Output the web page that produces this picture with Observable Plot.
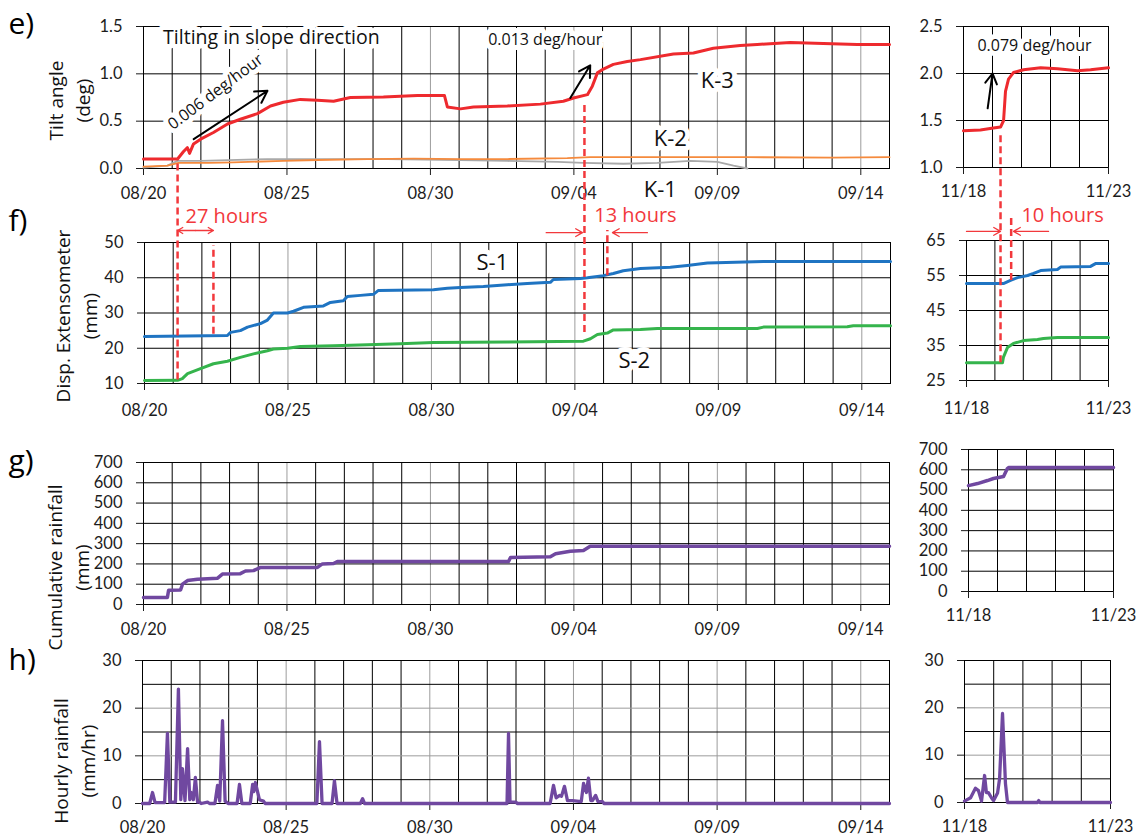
<!DOCTYPE html>
<html><head><meta charset="utf-8">
<script src="https://cdn.jsdelivr.net/npm/d3@7"></script>
<script src="https://cdn.jsdelivr.net/npm/@observablehq/plot@0.6"></script>
<style>
body{margin:0;background:#fff;}
#fig{position:relative;width:1143px;height:839px;overflow:hidden;background:#fff;}
</style></head><body><div id="fig"></div>
<script>
// ---------------- DATA ----------------
const YEAR = "2016";
const T = s => new Date(`${YEAR}-${s.replace(" ", "T")}:00Z`);
const rows = a => a.map(([t, v]) => ({t: T(t), v}));

// tick labels
const leftDateTicks = ["08-20", "08-25", "08-30", "09-04", "09-09", "09-14"];
const rightDateTicks = ["11-18", "11-23"];
const tiltTicksL = [0, 0.5, 1.0, 1.5];
const tiltTicksR = [1.0, 1.5, 2.0, 2.5];
const dispTicksL = [10, 20, 30, 40, 50];
const dispTicksR = [25, 35, 45, 55, 65];
const cumTicks = [0, 100, 200, 300, 400, 500, 600, 700];
const hourTicks = [0, 10, 20, 30];
const hourMinorGrid = [5, 15, 25];

// e) tilt angle (deg)
const k3L = [["08-20 00:00",0.10],["08-21 04:30",0.10],["08-21 09:30",0.18],["08-21 12:45",0.22],["08-21 14:30",0.16],["08-21 17:50",0.26],["08-21 23:45",0.31],["08-22 10:30",0.38],["08-22 22:15",0.47],["08-23 09:00",0.52],["08-23 23:20",0.58],["08-24 10:15",0.66],["08-24 21:00",0.70],["08-25 11:15",0.73],["08-26 01:30",0.72],["08-26 15:00",0.71],["08-27 05:00",0.75],["08-28 08:40",0.755],["08-29 13:10",0.77],["08-30 11:45",0.77],["08-30 14:10",0.65],["08-31 01:10",0.63],["08-31 12:00",0.65],["09-01 16:20",0.66],["09-02 20:00",0.68],["09-03 15:10",0.71],["09-03 23:40",0.745],["09-04 11:20",0.78],["09-04 15:25",0.87],["09-04 19:40",1.01],["09-05 00:40",1.05],["09-05 09:00",1.10],["09-05 20:40",1.13],["09-06 07:40",1.15],["09-07 11:15",1.21],["09-08 04:00",1.22],["09-08 20:40",1.27],["09-09 19:10",1.30],["09-10 09:20",1.31],["09-11 13:00",1.33],["09-12 16:40",1.32],["09-13 21:00",1.31],["09-15 00:00",1.31]];
const k2L = [["08-20 00:00",0.02],["08-20 20:00",0.03],["08-21 05:15",0.06],["08-22 06:00",0.06],["08-23 03:20",0.065],["08-24 21:00",0.08],["08-26 01:30",0.09],["08-27 19:15",0.10],["08-29 10:00",0.105],["08-31 01:10",0.10],["09-01 16:20",0.10],["09-03 18:30",0.11],["09-04 13:40",0.12],["09-07 00:00",0.12],["09-10 00:00",0.12],["09-13 00:00",0.115],["09-15 00:00",0.12]];
const k1L = [["08-20 00:00",0.01],["08-20 20:00",0.03],["08-21 04:30",0.08],["08-21 23:40",0.08],["08-24 07:40",0.10],["08-26 15:00",0.10],["08-28 12:00",0.10],["08-31 01:10",0.09],["09-01 16:20",0.08],["09-03 10:20",0.07],["09-04 08:00",0.06],["09-05 17:20",0.05],["09-06 21:50",0.06],["09-08 01:30",0.08],["09-09 00:00",0.07],["09-09 13:30",0.03],["09-10 01:10",0.0]];
const k3R = [["11-18 00:00",1.39],["11-18 14:00",1.40],["11-19 00:45",1.42],["11-19 06:40",1.43],["11-19 09:10",1.50],["11-19 10:45",1.81],["11-19 13:15",1.94],["11-19 17:20",2.01],["11-20 01:40",2.04],["11-20 15:50",2.06],["11-21 05:50",2.05],["11-21 22:20",2.03],["11-22 09:10",2.04],["11-23 00:00",2.06]];

// f) extensometer (mm)
const s1L = [["08-20 00:00",23.3],["08-22 21:20",23.6],["08-23 00:00",24.5],["08-23 08:10",25],["08-23 14:10",26],["08-24 01:00",27],["08-24 06:50",28],["08-24 11:50",30],["08-24 23:40",30],["08-25 04:40",30.5],["08-25 13:00",31.6],["08-26 05:40",32],["08-26 11:30",33],["08-26 22:20",33.5],["08-27 01:40",34.7],["08-27 12:40",35],["08-27 23:30",35.3],["08-28 03:40",36.4],["08-30 01:40",36.6],["08-30 13:20",37],["08-31 00:15",37.2],["08-31 19:30",37.5],["09-01 15:30",38],["09-02 08:10",38.4],["09-03 03:30",38.7],["09-03 06:00",39.5],["09-04 04:40",39.8],["09-04 10:30",40],["09-04 23:50",40.6],["09-05 08:10",41.2],["09-05 16:30",42],["09-06 06:50",42.6],["09-07 07:50",43],["09-07 22:00",43.5],["09-08 14:50",44.2],["09-10 13:40",44.6],["09-15 00:00",44.6]];
const s2L = [["08-20 00:00",10.85],["08-21 03:40",10.9],["08-21 07:40",11.4],["08-21 12:00",12.8],["08-21 22:50",14.2],["08-22 09:40",15.6],["08-22 21:20",16.3],["08-23 08:10",17.4],["08-23 19:10",18.4],["08-24 06:50",19.3],["08-24 11:50",19.8],["08-24 23:40",20],["08-25 10:30",20.5],["08-26 14:10",20.7],["08-27 18:30",21],["08-28 22:00",21.3],["08-30 01:40",21.6],["09-01 15:30",21.8],["09-04 07:10",22],["09-04 13:00",22.7],["09-04 18:50",23.9],["09-05 03:10",24.3],["09-05 08:10",25.2],["09-06 06:50",25.3],["09-06 21:00",25.6],["09-10 08:40",25.6],["09-10 13:40",26],["09-13 11:50",26.1],["09-13 16:50",26.4],["09-15 00:00",26.4]];
const s1R = [["11-18 00:00",52.7],["11-19 07:10",52.7],["11-19 13:10",53.6],["11-19 19:10",54.4],["11-20 03:40",55],["11-20 08:40",55.6],["11-20 14:40",56.4],["11-21 04:50",56.7],["11-21 07:30",57.4],["11-22 08:50",57.6],["11-22 13:00",58.4],["11-23 00:00",58.4]];
const s2R = [["11-18 00:00",30.1],["11-19 06:25",30.1],["11-19 07:10",31.6],["11-19 10:35",34.4],["11-19 15:40",35.6],["11-20 00:15",36.4],["11-20 12:00",36.7],["11-20 17:00",37],["11-21 04:50",37.3],["11-23 00:00",37.3]];

// g) cumulative rainfall (mm)
const cumL = [["08-20 00:00",35],["08-20 20:00",35],["08-20 21:00",70],["08-21 07:00",72],["08-21 08:40",100],["08-21 12:45",118],["08-21 21:10",125],["08-22 14:00",130],["08-22 18:00",150],["08-23 09:00",152],["08-23 13:20",165],["08-23 20:00",167],["08-24 02:00",183],["08-26 01:30",183],["08-26 05:40",200],["08-26 15:00",202],["08-26 18:10",212],["09-01 17:20",212],["09-01 19:00",232],["09-03 04:20",235],["09-03 08:40",250],["09-03 21:00",262],["09-04 08:00",266],["09-04 13:40",287],["09-15 00:00",287]];
const cumR = [["11-18 00:00",522],["11-18 07:30",532],["11-18 15:40",547],["11-18 20:40",557],["11-19 05:00",567],["11-19 08:10",606],["11-19 09:10",611],["11-23 00:00",611]];

// h) hourly rainfall (mm/hr)
const hourL = [["08-20 00:00",0],["08-20 06:00",0],["08-20 08:20",2.3],["08-20 10:30",0.2],["08-20 18:30",0.2],["08-20 20:50",14.7],["08-20 22:50",0.3],["08-21 03:30",0.3],["08-21 06:00",24],["08-21 08:00",0.8],["08-21 09:20",7.3],["08-21 11:30",0.6],["08-21 13:40",11.5],["08-21 15:30",0.8],["08-21 16:50",2.3],["08-21 18:30",0.8],["08-21 20:10",5.5],["08-21 22:00",0.3],["08-21 23:30",0.3],["08-22 01:00",0],["08-22 06:20",0.3],["08-22 08:00",0],["08-22 12:30",0],["08-22 14:40",3.8],["08-22 16:30",0.5],["08-22 18:50",17.4],["08-22 21:00",0.5],["08-22 23:30",0],["08-23 07:00",0],["08-23 09:00",4.0],["08-23 11:00",0],["08-23 18:00",0],["08-23 20:00",4.0],["08-23 21:00",2.5],["08-23 22:20",4.4],["08-24 01:40",0.8],["08-24 05:00",0.5],["08-24 06:30",0],["08-26 01:40",0],["08-26 03:50",13.0],["08-26 06:00",0],["08-26 14:20",0],["08-26 16:20",4.8],["08-26 18:30",0],["08-27 14:00",0],["08-27 15:50",1.0],["08-27 17:30",0],["09-01 16:30",0],["09-01 17:45",14.7],["09-01 19:00",0.3],["09-02 00:00",0.3],["09-02 01:00",0],["09-03 04:30",0],["09-03 07:20",3.8],["09-03 09:30",1.2],["09-03 12:30",1.7],["09-03 14:00",1.5],["09-03 16:30",3.6],["09-03 19:00",0.6],["09-03 23:20",0.6],["09-04 06:30",0.4],["09-04 08:25",4.2],["09-04 10:50",2.3],["09-04 12:30",5.3],["09-04 14:30",0.6],["09-04 15:50",0.6],["09-04 18:30",1.7],["09-04 20:30",0.4],["09-05 00:15",0.4],["09-05 01:30",0],["09-15 00:00",0]];
const hourR = [["11-18 00:00",0.3],["11-18 05:00",1.0],["11-18 09:00",3.0],["11-18 11:30",2.5],["11-18 14:00",0.3],["11-18 16:30",5.7],["11-18 18:00",2.1],["11-18 19:40",2.1],["11-18 22:10",1.0],["11-18 23:50",0.4],["11-19 03:10",2.0],["11-19 04:50",5.0],["11-19 07:15",18.8],["11-19 09:40",4.0],["11-19 11:20",0],["11-20 12:00",0],["11-20 13:00",0.4],["11-20 14:00",0],["11-23 00:00",0]];

// annotations (times, values, texts)
const tiltNoteL = [{t:"08-24 11:00", v:1.385, s:"Tilting in slope direction"}];
const rateNoteRot = [{t:"08-22 12:15", v:0.81, s:"0.006 deg/hour"}];
const rateNoteL = [{t:"09-03 00:00", v:1.36, s:"0.013 deg/hour"}];
const rateNoteR = [{t:"11-20 10:45", v:2.29, s:"0.079 deg/hour"}];
const tiltArrowsL = [{t1:"08-21 18:00", v1:0.31, t2:"08-24 07:40", v2:0.82},{t1:"09-03 21:00", v1:0.745, t2:"09-04 13:40", v2:1.09}];
const tiltArrowsR = [{t1:"11-18 20:00", v1:1.63, t2:"11-19 00:00", v2:2.00}];
const kLabels = [{t:"09-09 00:00", v:0.92, s:"K-3"},{t:"09-07 08:40", v:0.31, s:"K-2"},{t:"09-07 00:15", v:-0.23, s:"K-1"}];
const sLabels = [{t:"09-01 03:00", v:44.3, s:"S-1"},{t:"09-06 01:40", v:16.5, s:"S-2"}];
// onset: from K-3 (tilt value) down to extensometer value
const onsetL = [{t:"08-21 03:40", tilt:0.10, disp:11.0},{t:"09-04 08:00", tilt:0.68, disp:24.5}];
const onsetR = [{t:"11-19 04:45", tilt:1.37, disp:30.1}];
const lagL = [{t:"08-22 09:40", top:49.1, bottom:24.0},{t:"09-05 03:10", top:53.4, bottom:40.6}];
const lagR = [{t:"11-19 13:45", top:72.1, bottom:53.6}];
const lagArrowsL = [{t1:"08-21 18:40", t2:"08-21 03:40", v:53.4},{t1:"08-21 18:40", t2:"08-22 09:40", v:53.4},{t1:"09-03 00:00", t2:"09-04 06:20", v:52.8},{t1:"09-06 12:40", t2:"09-05 07:25", v:52.8}];
const lagArrowsR = [{t1:"11-18 00:00", t2:"11-19 04:45", v:67.6},{t1:"11-20 21:20", t2:"11-19 15:45", v:67.6}];
const lagTextL = [{t:"08-21 10:20", v:57.4, s:"27 hours"}];
const lagTextM = [{t:"09-06 02:40", v:57.7, s:"13 hours"}];
const lagTextR = [{t:"11-21 09:10", v:72.1, s:"10 hours"}];

// ---------------- LAYOUT ----------------
const W = 1143, H = 839;
const FONT = "'Open Sans', 'Noto Sans', sans-serif";
const TICKFONT = "Lato, 'Open Sans', sans-serif";
const F = {
  eL:{l:143,r:889,t:26,b:168}, eR:{l:963,r:1108,t:26,b:167},
  fL:{l:144,r:890,t:242,b:383}, fR:{l:966,r:1108,t:240,b:380},
  gL:{l:143,r:889,t:462,b:604}, gR:{l:968,r:1113,t:449,b:591},
  hL:{l:142,r:889,t:660,b:803}, hR:{l:964,r:1110,t:660,b:802}
};
const RED = "#ee2a2e", DRED = "#f2383c", ORANGE = "#f58a3d", GRAY = "#a9a9a9";
const BLUE = "#1f74c2", GREEN = "#35b44c", PURPLE = "#7048a0";
const xLeft = [T("08-20 00:00"), T("09-15 00:00")];
const xRight = [T("11-18 00:00"), T("11-23 00:00")];
const obj = a => a.map(d => ({...d, t: d.t ? T(d.t) : undefined, t1: d.t1 ? T(d.t1) : undefined, t2: d.t2 ? T(d.t2) : undefined}));

function panel(f, o) {
  const xTicks = o.xTicks.map(s => T(s + " 00:00"));
  const majors = new Set(xTicks.map(Number));
  const days = d3.utcDay.range(o.x[0], o.x[1]).slice(1);
  return Plot.plot({
    width: W, height: H,
    marginLeft: f.l, marginRight: W - f.r, marginTop: f.t, marginBottom: H - f.b,
    x: {type: "utc", domain: o.x},
    y: {type: "linear", domain: o.y},
    style: {position: "absolute", left: "0px", top: "0px", overflow: "visible", background: "transparent", fontFamily: TICKFONT, fontSize: "16.5px", color: "#1c1c1c"},
    marks: [
      Plot.ruleX(days.filter(d => !majors.has(+d)), {stroke: "#000", strokeWidth: 1}),
      Plot.ruleX(days.filter(d => majors.has(+d)), {stroke: "#9c9c9c", strokeWidth: 1}),
      Plot.ruleY(o.gridBlack || [], {stroke: "#000", strokeWidth: 1}),
      Plot.ruleY(o.gridGray || [], {stroke: "#9c9c9c", strokeWidth: 1}),
      Plot.frame({stroke: "#000", strokeWidth: 1}),
      Plot.axisX({ticks: xTicks, tickFormat: d3.utcFormat("%m/%d"), tickSize: 7, tickPadding: o.xPad, label: null}),
      Plot.axisY({ticks: o.yTicks, tickFormat: o.yFmt, tickSize: 7, tickPadding: 14, label: null}),
      ...(o.marks || [])
    ]
  });
}
const letter = (s, dx, dy) => Plot.text([s], {frameAnchor: "top-left", dx, dy, textAnchor: "start", lineAnchor: "bottom", fontSize: 30, fontFamily: FONT, fill: "#000"});
const ylab = (s, dx, dy) => Plot.text([s], {frameAnchor: "left", dx, dy, rotate: -90, fontSize: 19, fontFamily: FONT, lineHeight: 1.45, lineAnchor: "middle", textAnchor: "middle", fill: "#111"});
const halo = {stroke: "white", strokeWidth: 10, fontFamily: FONT};
const line = (data, stroke, w) => Plot.line(rows(data), {x: "t", y: "v", stroke, strokeWidth: w, strokeLinejoin: "round"});

const fmt1 = d3.format(".1f"), fmt0 = d => String(d);

// scale converters (tilt → extensometer value at same pixel height)
const yConv = (fa, da, fb, db) => v => d3.scaleLinear(db, [fb.b, fb.t]).invert(d3.scaleLinear(da, [fa.b, fa.t])(v));
const convL = yConv(F.eL, [0, 1.5], F.fL, [10, 50]);
const convR = yConv(F.eR, [1.0, 2.5], F.fR, [25, 65]);

const fig = document.getElementById("fig");
const plots = [];

// e left
plots.push(panel(F.eL, {x: xLeft, y: [0, 1.5], xTicks: leftDateTicks, xPad: 12, yTicks: tiltTicksL, yFmt: fmt1, gridBlack: [0.5, 1.0], marks: [
  letter("e)", -135, 7),
  ylab("Tilt angle\n(deg)", -76, 3),
  Plot.text(obj(tiltNoteL), {x: "t", y: "v", text: "s", fontSize: 19.5, fill: "#111", ...halo}),
  Plot.text(obj(rateNoteRot), {x: "t", y: "v", text: "s", fontSize: 16, rotate: -37, fill: "#111", ...halo}),
  Plot.text(obj(rateNoteL), {x: "t", y: "v", text: "s", fontSize: 16, fill: "#111", ...halo}),
  Plot.text(obj(kLabels), {x: "t", y: "v", text: "s", fontSize: 22, fill: "#111", ...halo}),
  line(k1L, GRAY, 1.8),
  line(k2L, ORANGE, 1.8),
  line(k3L, RED, 3),
  Plot.arrow(obj(tiltArrowsL), {x1: "t1", y1: "v1", x2: "t2", y2: "v2", stroke: "#000", strokeWidth: 2, headLength: 10})
]}));
// e right
plots.push(panel(F.eR, {x: xRight, y: [1.0, 2.5], xTicks: rightDateTicks, xPad: 11, yTicks: tiltTicksR, yFmt: fmt1, gridBlack: [1.5, 2.0], marks: [
  Plot.text(obj(rateNoteR), {x: "t", y: "v", text: "s", fontSize: 16, fill: "#111", ...halo}),
  line(k3R, RED, 3),
  Plot.arrow(obj(tiltArrowsR), {x1: "t1", y1: "v1", x2: "t2", y2: "v2", stroke: "#000", strokeWidth: 2, headLength: 10})
]}));
// f left
plots.push(panel(F.fL, {x: xLeft, y: [10, 50], xTicks: leftDateTicks, xPad: 14, yTicks: dispTicksL, yFmt: fmt0, gridBlack: [20, 30, 40], marks: [
  letter("f)", -136, -12),
  ylab("Disp. Extensometer\n(mm)", -70, 3),
  Plot.text(obj(sLabels), {x: "t", y: "v", text: "s", fontSize: 22, fill: "#111", ...halo}),
  line(s2L, GREEN, 3),
  line(s1L, BLUE, 3),
  Plot.ruleX(obj(onsetL).map(d => ({...d, top: convL(d.tilt)})), {x: "t", y1: "disp", y2: "top", stroke: DRED, strokeWidth: 2.5, strokeDasharray: "7,4"}),
  Plot.ruleX(obj(lagL), {x: "t", y1: "bottom", y2: "top", stroke: DRED, strokeWidth: 2.5, strokeDasharray: "7,4"}),
  Plot.arrow(obj(lagArrowsL), {x1: "t1", y1: "v", x2: "t2", y2: "v", stroke: DRED, strokeWidth: 1.3, headLength: 9}),
  Plot.text(obj(lagTextL), {x: "t", y: "v", text: "s", fontSize: 20, fontFamily: FONT, fill: DRED, textAnchor: "start"}),
  Plot.text(obj(lagTextM), {x: "t", y: "v", text: "s", fontSize: 20, fontFamily: FONT, fill: DRED})
]}));
// f right
plots.push(panel(F.fR, {x: xRight, y: [25, 65], xTicks: rightDateTicks, xPad: 15, yTicks: dispTicksR, yFmt: fmt0, gridBlack: [35, 45, 55], marks: [
  line(s2R, GREEN, 3),
  line(s1R, BLUE, 3),
  Plot.ruleX(obj(onsetR).map(d => ({...d, top: convR(d.tilt)})), {x: "t", y1: "disp", y2: "top", stroke: DRED, strokeWidth: 2.5, strokeDasharray: "7,4"}),
  Plot.ruleX(obj(lagR), {x: "t", y1: "bottom", y2: "top", stroke: DRED, strokeWidth: 2.5, strokeDasharray: "7,4"}),
  Plot.arrow(obj(lagArrowsR), {x1: "t1", y1: "v", x2: "t2", y2: "v", stroke: DRED, strokeWidth: 1.3, headLength: 9}),
  Plot.text(obj(lagTextR), {x: "t", y: "v", text: "s", fontSize: 20, fontFamily: FONT, fill: DRED})
]}));
// g left
plots.push(panel(F.gL, {x: xLeft, y: [0, 700], xTicks: leftDateTicks, xPad: 12, yTicks: cumTicks, yFmt: fmt0, gridBlack: [100, 200, 300, 400, 500, 600], marks: [
  letter("g)", -135, 8),
  ylab("Cumulative rainfall\n(mm)", -77, 34),
  line(cumL, PURPLE, 3.5)
]}));
// g right
plots.push(panel(F.gR, {x: xRight, y: [0, 700], xTicks: rightDateTicks, xPad: 11, yTicks: cumTicks, yFmt: fmt0, gridBlack: [100, 200, 300, 400, 500, 600], marks: [
  line(cumR, PURPLE, 3.5)
]}));
// h left
plots.push(panel(F.hL, {x: xLeft, y: [0, 30], xTicks: leftDateTicks, xPad: 11, yTicks: hourTicks, yFmt: fmt0, gridBlack: hourMinorGrid, gridGray: [10, 20], marks: [
  letter("h)", -134, 9),
  ylab("Hourly rainfall\n(mm/hr)", -70, 29),
  line(hourL, PURPLE, 3.3)
]}));
// h right
plots.push(panel(F.hR, {x: xRight, y: [0, 30], xTicks: rightDateTicks, xPad: 11, yTicks: hourTicks, yFmt: fmt0, gridBlack: hourMinorGrid, gridGray: [10, 20], marks: [
  line(hourR, PURPLE, 3.3)
]}));

plots.forEach(p => fig.appendChild(p));
</script>
</body></html>
